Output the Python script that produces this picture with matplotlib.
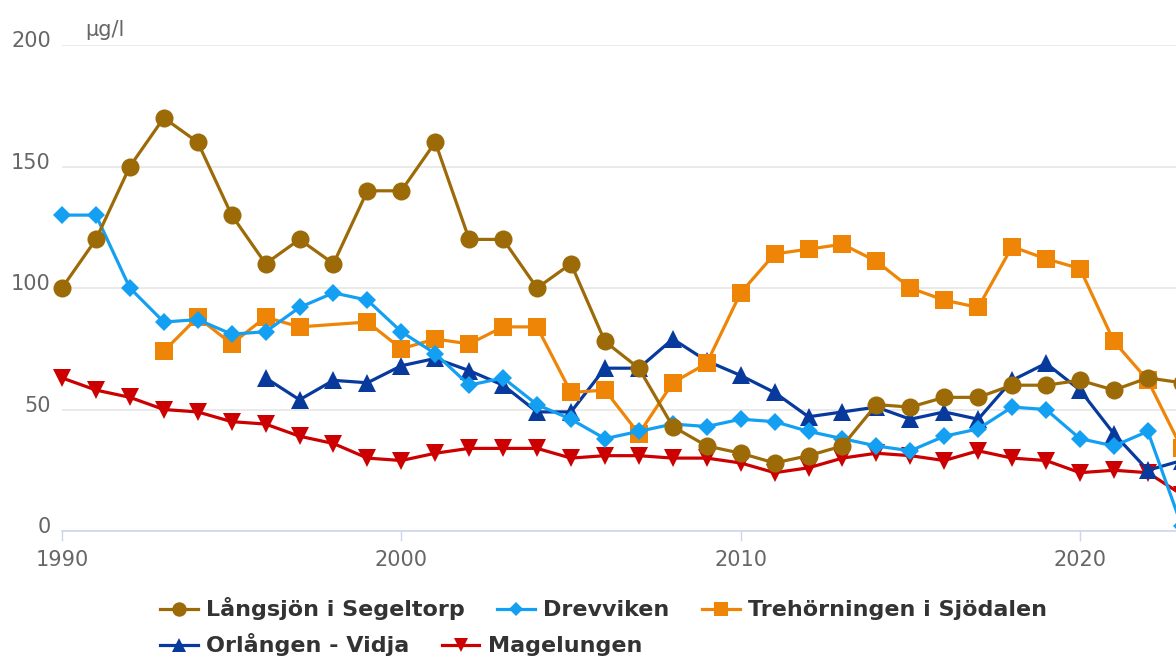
import matplotlib.pyplot as plt
from matplotlib.transforms import ScaledTranslation

# years on the x axis
years = list(range(1990, 2024))

# series values in ug/l (None = no sample that year)
langsjon = [100, 120, 150, 170, 160, 130, 110, 120, 110, 140, 140, 160, 120, 120, 100, 110,
            78, 67, 43, 35, 32, 28, 31, 35, 52, 51, 55, 55, 60, 60, 62, 58, 63, 61]
drevviken = [130, 130, 100, 86, 87, 81, 82, 92, 98, 95, 82, 73, 60, 63, 52, 46,
             38, 41, 44, 43, 46, 45, 41, 38, 35, 33, 39, 42, 51, 50, 38, 35, 41, 2]
trehorningen = [None, None, None, 74, 88, 77, 88, 84, None, 86, 75, 79, 77, 84, 84, 57,
                58, 40, 61, 69, 98, 114, 116, 118, 111, 100, 95, 92, 117, 112, 108, 78, 62, 34]
orlangen = [None] * 6 + [63, 54, 62, 61, 68, 71, 66, 60, 49, 49,
                         67, 67, 79, 70, 64, 57, 47, 49, 51, 46, 49, 46, 62, 69, 58, 40, 25, 29]
magelungen = [63, 58, 55, 50, 49, 45, 44, 39, 36, 30, 29, 32, 34, 34, 34, 30,
              31, 31, 30, 30, 28, 24, 26, 30, 32, 31, 29, 33, 30, 29, 24, 25, 24, 15]

names = ["Långsjön i Segeltorp", "Drevviken", "Trehörningen i Sjödalen",
         "Orlången - Vidja", "Magelungen"]
values = [langsjon, drevviken, trehorningen, orlangen, magelungen]
colors = ["#9c6b08", "#14a0f2", "#ef8506", "#073a9c", "#cc0000"]
markers = ["o", "D", "s", "^", "v"]
msizes = [13, 9.5, 12.5, 13, 13]

W, H = 1176, 657
fig = plt.figure(figsize=(W / 100, H / 100), dpi=100)
ax = fig.add_axes([62 / W, (H - 531) / H, (W - 62) / W, (531 - 45) / H])

lines = []
for i, (nm, vals) in enumerate(zip(names, values)):
    xs, yy = [], []
    # drop the gaps so the line joins across missing years
    for x, y in zip(years, vals):
        if y is not None:
            xs.append(x)
            yy.append(y)
    ln, = ax.plot(xs, yy, color=colors[i], lw=2.3, marker=markers[i],
                  markersize=msizes[i], markeredgewidth=0, label=nm,
                  zorder=10 - i, clip_on=False)
    lines.append(ln)

ax.set_xlim(1990, 2022.83)
ax.set_ylim(0, 200)
ax.set_xticks([1990, 2000, 2010, 2020])
ax.set_yticks([0, 50, 100, 150, 200])

for s in ["top", "right", "left"]:
    ax.spines[s].set_visible(False)
ax.spines["bottom"].set_color("#ccd6eb")
ax.spines["bottom"].set_linewidth(1.2)
ax.spines["bottom"].set_zorder(1)

ax.grid(axis="y", color="#e6e6e6", lw=1.2)
ax.set_axisbelow(True)
ax.tick_params(axis="x", length=7.5, width=1, color="#ccd6eb", pad=6,
               labelsize=15, labelcolor="#666666")
ax.tick_params(axis="y", length=0, pad=8, labelsize=15, labelcolor="#666666")
for lab in ax.get_yticklabels():
    lab.set_transform(lab.get_transform() + ScaledTranslation(0, 4 / 72, fig.dpi_scale_trans))

fig.text(85 / W, 1 - 30 / H, "μg/l", fontsize=15, color="#666666", va="center", ha="left")

# legend drawn as two rows, flowing left to right like the original
leg_kw = dict(frameon=False, loc="center left", handlelength=1.7,
              handletextpad=0.38, columnspacing=1.45, borderpad=0, borderaxespad=0,
              markerscale=0.8, prop={"weight": "bold", "size": 16})
l1 = fig.legend(lines[:3], names[:3], ncol=3, bbox_to_anchor=(160 / W, 1 - 609 / H), **leg_kw)
l2 = fig.legend(lines[3:], names[3:], ncol=2, bbox_to_anchor=(160 / W, 1 - 645 / H), **leg_kw)
for lg in (l1, l2):
    for t in lg.get_texts():
        t.set_color("#333333")

fig.savefig("out.png", dpi=100)
